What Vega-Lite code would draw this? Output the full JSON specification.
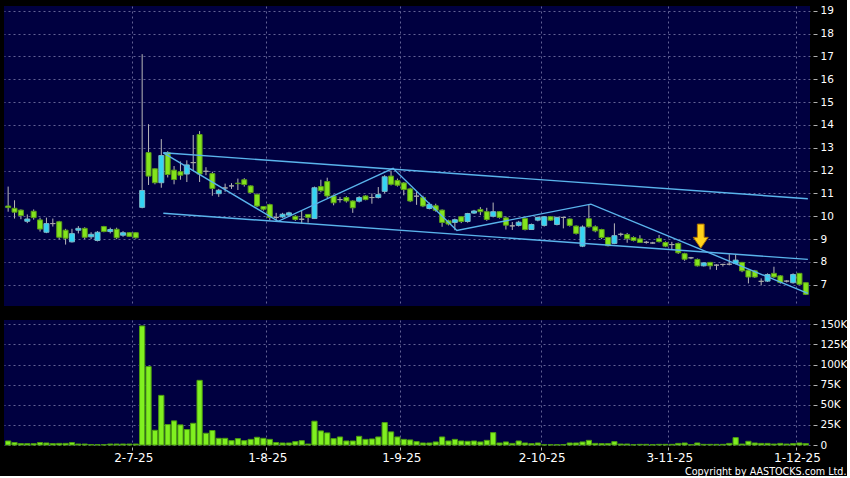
{
"$schema": "https://vega.github.io/schema/vega-lite/v6.json",
"background": "#000000",
"padding": {"left": 4, "top": 5, "right": 0, "bottom": 0},
"spacing": 13,
"config": {
  "view": {"fill": "#000040", "stroke": null},
  "font": "DejaVu Sans",
  "axis": {"gridColor": "#7a7aaa", "gridDash": [2, 3], "gridWidth": 1, "gridOpacity": 0.8, "labelColor": "#ffffff", "labelFont": "DejaVu Sans", "tickColor": "#b0b0b0", "domain": false, "labelOverlap": false, "labelBound": false, "labelFlush": false}
},
"datasets": {
"k": [
{"d":"2025-06-03","o":10.45,"h":11.3,"l":10.2,"c":10.38,"v":5000},
{"d":"2025-06-04","o":10.35,"h":10.7,"l":9.9,"c":10.18,"v":3000},
{"d":"2025-06-05","o":10.27,"h":10.3,"l":9.87,"c":10.03,"v":1700},
{"d":"2025-06-06","o":9.78,"h":10.08,"l":9.7,"c":9.88,"v":1700},
{"d":"2025-06-09","o":10.22,"h":10.3,"l":9.85,"c":9.94,"v":1700},
{"d":"2025-06-10","o":9.84,"h":9.94,"l":9.33,"c":9.44,"v":3000},
{"d":"2025-06-11","o":9.3,"h":9.94,"l":9.26,"c":9.68,"v":2500},
{"d":"2025-06-12","o":9.68,"h":9.9,"l":9.55,"c":9.68,"v":1700},
{"d":"2025-06-13","o":9.76,"h":9.8,"l":8.99,"c":9.08,"v":2000},
{"d":"2025-06-16","o":9.39,"h":9.45,"l":8.76,"c":9.04,"v":2000},
{"d":"2025-06-17","o":8.88,"h":9.45,"l":8.85,"c":9.24,"v":3000},
{"d":"2025-06-18","o":9.39,"h":9.57,"l":9.25,"c":9.47,"v":1200},
{"d":"2025-06-19","o":9.47,"h":9.52,"l":9.0,"c":9.08,"v":1200},
{"d":"2025-06-20","o":9.1,"h":9.3,"l":9.0,"c":9.21,"v":500},
{"d":"2025-06-23","o":8.94,"h":9.35,"l":8.9,"c":9.3,"v":400},
{"d":"2025-06-24","o":9.55,"h":9.58,"l":9.3,"c":9.33,"v":400},
{"d":"2025-06-25","o":9.33,"h":9.5,"l":9.25,"c":9.42,"v":1200},
{"d":"2025-06-26","o":9.43,"h":9.5,"l":9.0,"c":9.06,"v":1200},
{"d":"2025-06-27","o":9.17,"h":9.35,"l":9.1,"c":9.28,"v":1200},
{"d":"2025-06-30","o":9.28,"h":9.3,"l":9.1,"c":9.12,"v":1200},
{"d":"2025-07-02","o":9.28,"h":9.3,"l":9.02,"c":9.06,"v":1200},
{"d":"2025-07-03","o":10.39,"h":17.1,"l":10.35,"c":11.13,"v":148000},
{"d":"2025-07-04","o":12.79,"h":14.03,"l":11.37,"c":11.76,"v":97500},
{"d":"2025-07-07","o":12.08,"h":12.1,"l":11.4,"c":11.47,"v":18300},
{"d":"2025-07-08","o":11.47,"h":13.38,"l":11.25,"c":12.66,"v":61700},
{"d":"2025-07-09","o":12.79,"h":12.85,"l":11.7,"c":11.83,"v":25400},
{"d":"2025-07-10","o":12.02,"h":12.2,"l":11.4,"c":11.61,"v":30000},
{"d":"2025-07-11","o":11.95,"h":12.4,"l":11.6,"c":11.8,"v":25000},
{"d":"2025-07-14","o":11.85,"h":12.45,"l":11.5,"c":12.25,"v":19200},
{"d":"2025-07-15","o":12.35,"h":13.56,"l":12.0,"c":12.35,"v":27000},
{"d":"2025-07-16","o":13.58,"h":13.73,"l":11.5,"c":11.85,"v":80400},
{"d":"2025-07-17","o":11.97,"h":12.15,"l":11.8,"c":11.97,"v":14600},
{"d":"2025-07-18","o":11.87,"h":11.95,"l":10.9,"c":11.22,"v":18000},
{"d":"2025-07-22","o":10.99,"h":11.2,"l":10.85,"c":11.14,"v":8300},
{"d":"2025-07-23","o":11.24,"h":11.43,"l":11.07,"c":11.24,"v":8300},
{"d":"2025-07-24","o":11.33,"h":11.45,"l":11.2,"c":11.33,"v":5400},
{"d":"2025-07-25","o":11.45,"h":11.65,"l":11.15,"c":11.43,"v":7900},
{"d":"2025-07-28","o":11.6,"h":11.67,"l":11.3,"c":11.39,"v":5400},
{"d":"2025-07-29","o":11.33,"h":11.35,"l":11.0,"c":11.04,"v":7000},
{"d":"2025-07-30","o":10.96,"h":11.0,"l":10.4,"c":10.45,"v":9600},
{"d":"2025-07-31","o":10.43,"h":10.45,"l":10.25,"c":10.31,"v":8300},
{"d":"2025-08-01","o":10.51,"h":10.55,"l":9.83,"c":9.95,"v":7000},
{"d":"2025-08-04","o":9.95,"h":10.15,"l":9.8,"c":9.95,"v":3000},
{"d":"2025-08-05","o":9.97,"h":10.15,"l":9.93,"c":10.09,"v":2500},
{"d":"2025-08-06","o":10.05,"h":10.2,"l":10.0,"c":10.15,"v":2500},
{"d":"2025-08-07","o":10.0,"h":10.05,"l":9.8,"c":9.86,"v":4200},
{"d":"2025-08-08","o":9.87,"h":10.24,"l":9.68,"c":9.87,"v":5400},
{"d":"2025-08-11","o":10.08,"h":10.1,"l":9.72,"c":9.95,"v":1200},
{"d":"2025-08-12","o":9.9,"h":11.3,"l":9.88,"c":11.25,"v":29600},
{"d":"2025-08-13","o":11.3,"h":11.6,"l":11.05,"c":11.12,"v":17500},
{"d":"2025-08-14","o":11.52,"h":11.69,"l":10.8,"c":10.89,"v":15000},
{"d":"2025-08-15","o":10.89,"h":10.95,"l":10.48,"c":10.59,"v":7900},
{"d":"2025-08-18","o":10.73,"h":10.85,"l":10.6,"c":10.73,"v":10000},
{"d":"2025-08-19","o":10.82,"h":10.88,"l":10.6,"c":10.67,"v":5000},
{"d":"2025-08-20","o":10.67,"h":10.7,"l":10.15,"c":10.37,"v":5000},
{"d":"2025-08-21","o":10.66,"h":10.88,"l":10.6,"c":10.82,"v":10800},
{"d":"2025-08-22","o":10.89,"h":10.92,"l":10.7,"c":10.73,"v":7000},
{"d":"2025-08-25","o":10.82,"h":11.0,"l":10.55,"c":10.82,"v":7500},
{"d":"2025-08-26","o":10.82,"h":11.28,"l":10.78,"c":10.95,"v":10000},
{"d":"2025-08-27","o":11.09,"h":11.8,"l":11.0,"c":11.73,"v":27900},
{"d":"2025-08-28","o":11.76,"h":12.0,"l":11.35,"c":11.4,"v":16300},
{"d":"2025-08-29","o":11.57,"h":11.65,"l":11.3,"c":11.36,"v":10000},
{"d":"2025-09-01","o":11.46,"h":11.5,"l":10.92,"c":11.17,"v":7000},
{"d":"2025-09-02","o":11.2,"h":11.25,"l":10.62,"c":10.67,"v":6300},
{"d":"2025-09-03","o":10.88,"h":11.07,"l":10.5,"c":10.88,"v":4200},
{"d":"2025-09-04","o":10.82,"h":10.9,"l":10.4,"c":10.45,"v":2500},
{"d":"2025-09-05","o":10.34,"h":10.6,"l":10.3,"c":10.52,"v":2500},
{"d":"2025-09-08","o":10.46,"h":10.55,"l":10.2,"c":10.26,"v":3800},
{"d":"2025-09-09","o":10.27,"h":10.3,"l":9.54,"c":9.73,"v":10000},
{"d":"2025-09-10","o":9.8,"h":9.85,"l":9.6,"c":9.66,"v":5000},
{"d":"2025-09-11","o":9.73,"h":9.9,"l":9.39,"c":9.85,"v":7000},
{"d":"2025-09-12","o":9.98,"h":10.0,"l":9.7,"c":9.77,"v":5000},
{"d":"2025-09-15","o":9.77,"h":10.15,"l":9.72,"c":10.12,"v":4600},
{"d":"2025-09-16","o":10.14,"h":10.28,"l":10.1,"c":10.23,"v":5000},
{"d":"2025-09-17","o":10.3,"h":10.4,"l":10.05,"c":10.2,"v":3800},
{"d":"2025-09-18","o":10.2,"h":10.37,"l":9.8,"c":9.86,"v":5800},
{"d":"2025-09-19","o":10.0,"h":10.6,"l":9.95,"c":10.2,"v":15400},
{"d":"2025-09-22","o":10.2,"h":10.22,"l":9.9,"c":9.95,"v":2500},
{"d":"2025-09-23","o":9.93,"h":10.0,"l":9.42,"c":9.61,"v":3800},
{"d":"2025-09-24","o":9.58,"h":9.75,"l":9.4,"c":9.58,"v":2000},
{"d":"2025-09-25","o":9.6,"h":9.8,"l":9.55,"c":9.74,"v":5000},
{"d":"2025-09-26","o":9.9,"h":9.95,"l":9.38,"c":9.42,"v":2500},
{"d":"2025-09-29","o":9.42,"h":9.68,"l":9.4,"c":9.64,"v":1700},
{"d":"2025-09-30","o":9.83,"h":9.98,"l":9.78,"c":9.95,"v":2500},
{"d":"2025-10-02","o":9.6,"h":10.0,"l":9.55,"c":9.98,"v":300},
{"d":"2025-10-03","o":9.98,"h":10.0,"l":9.8,"c":9.83,"v":300},
{"d":"2025-10-06","o":9.64,"h":9.98,"l":9.6,"c":9.95,"v":300},
{"d":"2025-10-08","o":9.95,"h":9.98,"l":9.47,"c":9.95,"v":500},
{"d":"2025-10-09","o":9.88,"h":9.9,"l":9.55,"c":9.6,"v":2500},
{"d":"2025-10-10","o":9.57,"h":9.6,"l":9.2,"c":9.25,"v":2500},
{"d":"2025-10-13","o":8.69,"h":9.6,"l":8.65,"c":9.53,"v":3800},
{"d":"2025-10-14","o":9.89,"h":10.52,"l":9.5,"c":9.54,"v":5800},
{"d":"2025-10-15","o":9.54,"h":9.6,"l":9.3,"c":9.36,"v":2000},
{"d":"2025-10-16","o":9.42,"h":9.45,"l":9.0,"c":9.07,"v":1700},
{"d":"2025-10-17","o":9.07,"h":9.1,"l":8.68,"c":8.71,"v":1700},
{"d":"2025-10-20","o":8.81,"h":9.69,"l":8.78,"c":9.15,"v":4200},
{"d":"2025-10-21","o":9.21,"h":9.28,"l":9.12,"c":9.21,"v":1200},
{"d":"2025-10-22","o":9.2,"h":9.27,"l":8.84,"c":9.02,"v":1200},
{"d":"2025-10-23","o":9.07,"h":9.12,"l":8.9,"c":8.94,"v":400},
{"d":"2025-10-24","o":9.01,"h":9.17,"l":8.83,"c":8.85,"v":800},
{"d":"2025-10-27","o":8.86,"h":8.92,"l":8.8,"c":8.86,"v":800},
{"d":"2025-10-28","o":8.83,"h":8.88,"l":8.8,"c":8.83,"v":400},
{"d":"2025-10-30","o":9.02,"h":9.18,"l":8.85,"c":8.89,"v":800},
{"d":"2025-10-31","o":8.85,"h":8.9,"l":8.65,"c":8.69,"v":800},
{"d":"2025-11-03","o":8.76,"h":8.88,"l":8.55,"c":8.76,"v":800},
{"d":"2025-11-04","o":8.81,"h":8.85,"l":8.35,"c":8.4,"v":2000},
{"d":"2025-11-05","o":8.36,"h":8.4,"l":8.05,"c":8.12,"v":2500},
{"d":"2025-11-06","o":8.18,"h":8.22,"l":8.12,"c":8.18,"v":400},
{"d":"2025-11-07","o":8.11,"h":8.15,"l":7.8,"c":7.83,"v":2500},
{"d":"2025-11-10","o":7.83,"h":7.98,"l":7.8,"c":7.96,"v":800},
{"d":"2025-11-11","o":7.98,"h":8.0,"l":7.67,"c":7.83,"v":800},
{"d":"2025-11-12","o":7.86,"h":7.9,"l":7.65,"c":7.86,"v":800},
{"d":"2025-11-13","o":7.89,"h":7.92,"l":7.8,"c":7.89,"v":800},
{"d":"2025-11-14","o":7.9,"h":8.34,"l":7.85,"c":7.9,"v":2000},
{"d":"2025-11-17","o":7.93,"h":8.33,"l":7.9,"c":8.08,"v":9200},
{"d":"2025-11-18","o":7.98,"h":8.0,"l":7.55,"c":7.61,"v":1200},
{"d":"2025-11-19","o":7.64,"h":7.68,"l":7.06,"c":7.34,"v":4600},
{"d":"2025-11-20","o":7.61,"h":7.65,"l":7.3,"c":7.34,"v":2500},
{"d":"2025-11-21","o":7.15,"h":7.28,"l":6.97,"c":7.15,"v":2000},
{"d":"2025-11-24","o":7.16,"h":7.5,"l":7.12,"c":7.45,"v":2000},
{"d":"2025-11-25","o":7.5,"h":7.79,"l":7.3,"c":7.34,"v":1200},
{"d":"2025-11-26","o":7.39,"h":7.42,"l":7.05,"c":7.1,"v":2000},
{"d":"2025-11-27","o":7.16,"h":7.2,"l":7.1,"c":7.16,"v":1200},
{"d":"2025-11-28","o":7.09,"h":7.5,"l":7.05,"c":7.45,"v":1700},
{"d":"2025-12-01","o":7.5,"h":7.5,"l":7.0,"c":7.02,"v":2500},
{"d":"2025-12-02","o":7.09,"h":7.09,"l":6.55,"c":6.58,"v":1700}
],
"lines": [
{"id":"u","d":"2025-07-08","p":12.78},{"id":"u","d":"2025-12-02","p":10.77},
{"id":"l","d":"2025-07-08","p":10.13},{"id":"l","d":"2025-12-02","p":8.11},
{"id":"z","d":"2025-07-08","p":12.78},{"id":"z","d":"2025-08-04","p":9.78},{"id":"z","d":"2025-08-28","p":12.1},{"id":"z","d":"2025-09-11","p":9.38},{"id":"z","d":"2025-10-14","p":10.53},{"id":"z","d":"2025-12-02","p":6.62}
],
"arrow": [{"d":"2025-11-10","p":9.13}]
},
"vconcat": [
{
 "width": 806, "height": 300,
 "layer": [
  {
   "data": {"name": "k"},
   "mark": {"type": "rule", "color": "#b8b8b8", "strokeWidth": 1},
   "encoding": {
    "x": {"field": "d", "type": "ordinal", "title": null, "scale": {"paddingInner": 0, "paddingOuter": 0.15},
          "axis": {"values": ["2025-07-02","2025-08-01","2025-09-01","2025-10-02","2025-11-03","2025-12-01"], "bandPosition": 0, "labels": false, "ticks": false, "grid": true, "title": null}},
    "y": {"field": "l", "type": "quantitative", "title": null, "scale": {"domain": [6.07, 19.21], "nice": false, "zero": false},
          "axis": {"orient": "right", "values": [7,8,9,10,11,12,13,14,15,16,17,18,19], "tickCount": 30, "format": "d", "grid": true, "offset": 3, "tickSize": 4, "labelPadding": 3, "labelFontSize": 10.5, "labelOverlap": false, "title": null}},
    "y2": {"field": "h"}
   }
  },
  {
   "data": {"name": "k"},
   "mark": {"type": "bar", "width": {"band": 0.78}, "strokeWidth": 1},
   "encoding": {
    "x": {"field": "d", "type": "ordinal", "title": null},
    "y": {"field": "o", "type": "quantitative", "title": null},
    "y2": {"field": "c"},
    "fill": {"condition": [{"test": "datum.c == datum.o", "value": "#9a9a9a"}, {"test": "datum.c > datum.o", "value": "#33d4f4"}], "value": "#84e41c"},
    "stroke": {"condition": [{"test": "datum.c == datum.o", "value": "#a8a8a8"}, {"test": "datum.c > datum.o", "value": "#7ab8c8"}], "value": "#5a9e18"}
   }
  },
  {
   "data": {"name": "lines"},
   "mark": {"type": "line", "color": "#5ab4ec", "strokeWidth": 1.4, "xOffset": 2},
   "encoding": {
    "x": {"field": "d", "type": "ordinal", "title": null},
    "y": {"field": "p", "type": "quantitative", "title": null},
    "detail": {"field": "id"}
   }
  },
  {
   "data": {"name": "arrow"},
   "mark": {"type": "point", "shape": "M-0.28,-1 L0.28,-1 L0.28,0.1 L0.62,0.1 L0,1 L-0.62,0.1 L-0.28,0.1 Z", "filled": true, "fill": "#ffd21a", "stroke": "#b07400", "strokeWidth": 1, "size": 580, "opacity": 1, "xOffset": -3},
   "encoding": {
    "x": {"field": "d", "type": "ordinal", "title": null},
    "y": {"field": "p", "type": "quantitative", "title": null}
   }
  }
 ]
},
{
 "width": 806, "height": 125,
 "data": {"name": "k"},
 "mark": {"type": "bar", "width": {"band": 0.82}, "fill": "#80f020", "stroke": "#4c9c10", "strokeWidth": 1},
 "encoding": {
  "x": {"field": "d", "type": "ordinal", "scale": {"paddingInner": 0, "paddingOuter": 0.15},
        "axis": {"values": ["2025-07-02","2025-08-01","2025-09-01","2025-10-02","2025-11-03","2025-12-01"], "bandPosition": 0, "labelAngle": 0,
                 "labelExpr": "toNumber(substring(datum.value,8,10)) + '-' + toNumber(substring(datum.value,5,7)) + '-' + substring(datum.value,2,4)",
                 "labelFontSize": 12, "labelOffset": -2, "tickSize": 3, "offset": 2, "labelPadding": 2, "grid": true,
                 "title": "Copyright by AASTOCKS.com Ltd.", "titleFontSize": 9.6, "titleFontWeight": "normal", "titleColor": "#ffffff", "titleX": 842, "titleY": 27, "titleAlign": "right", "titleBaseline": "alphabetic"}},
  "y": {"field": "v", "type": "quantitative", "scale": {"domain": [0, 155400], "nice": false},
        "axis": {"orient": "right", "values": [0,25000,50000,75000,100000,125000,150000], "tickCount": 30, "labelExpr": "datum.value == 0 ? '0' : (datum.value/1000) + 'K'", "grid": true, "offset": 3, "tickSize": 4, "labelPadding": 3, "labelFontSize": 10.5, "labelOverlap": false, "title": null}}
 }
}
]
}
